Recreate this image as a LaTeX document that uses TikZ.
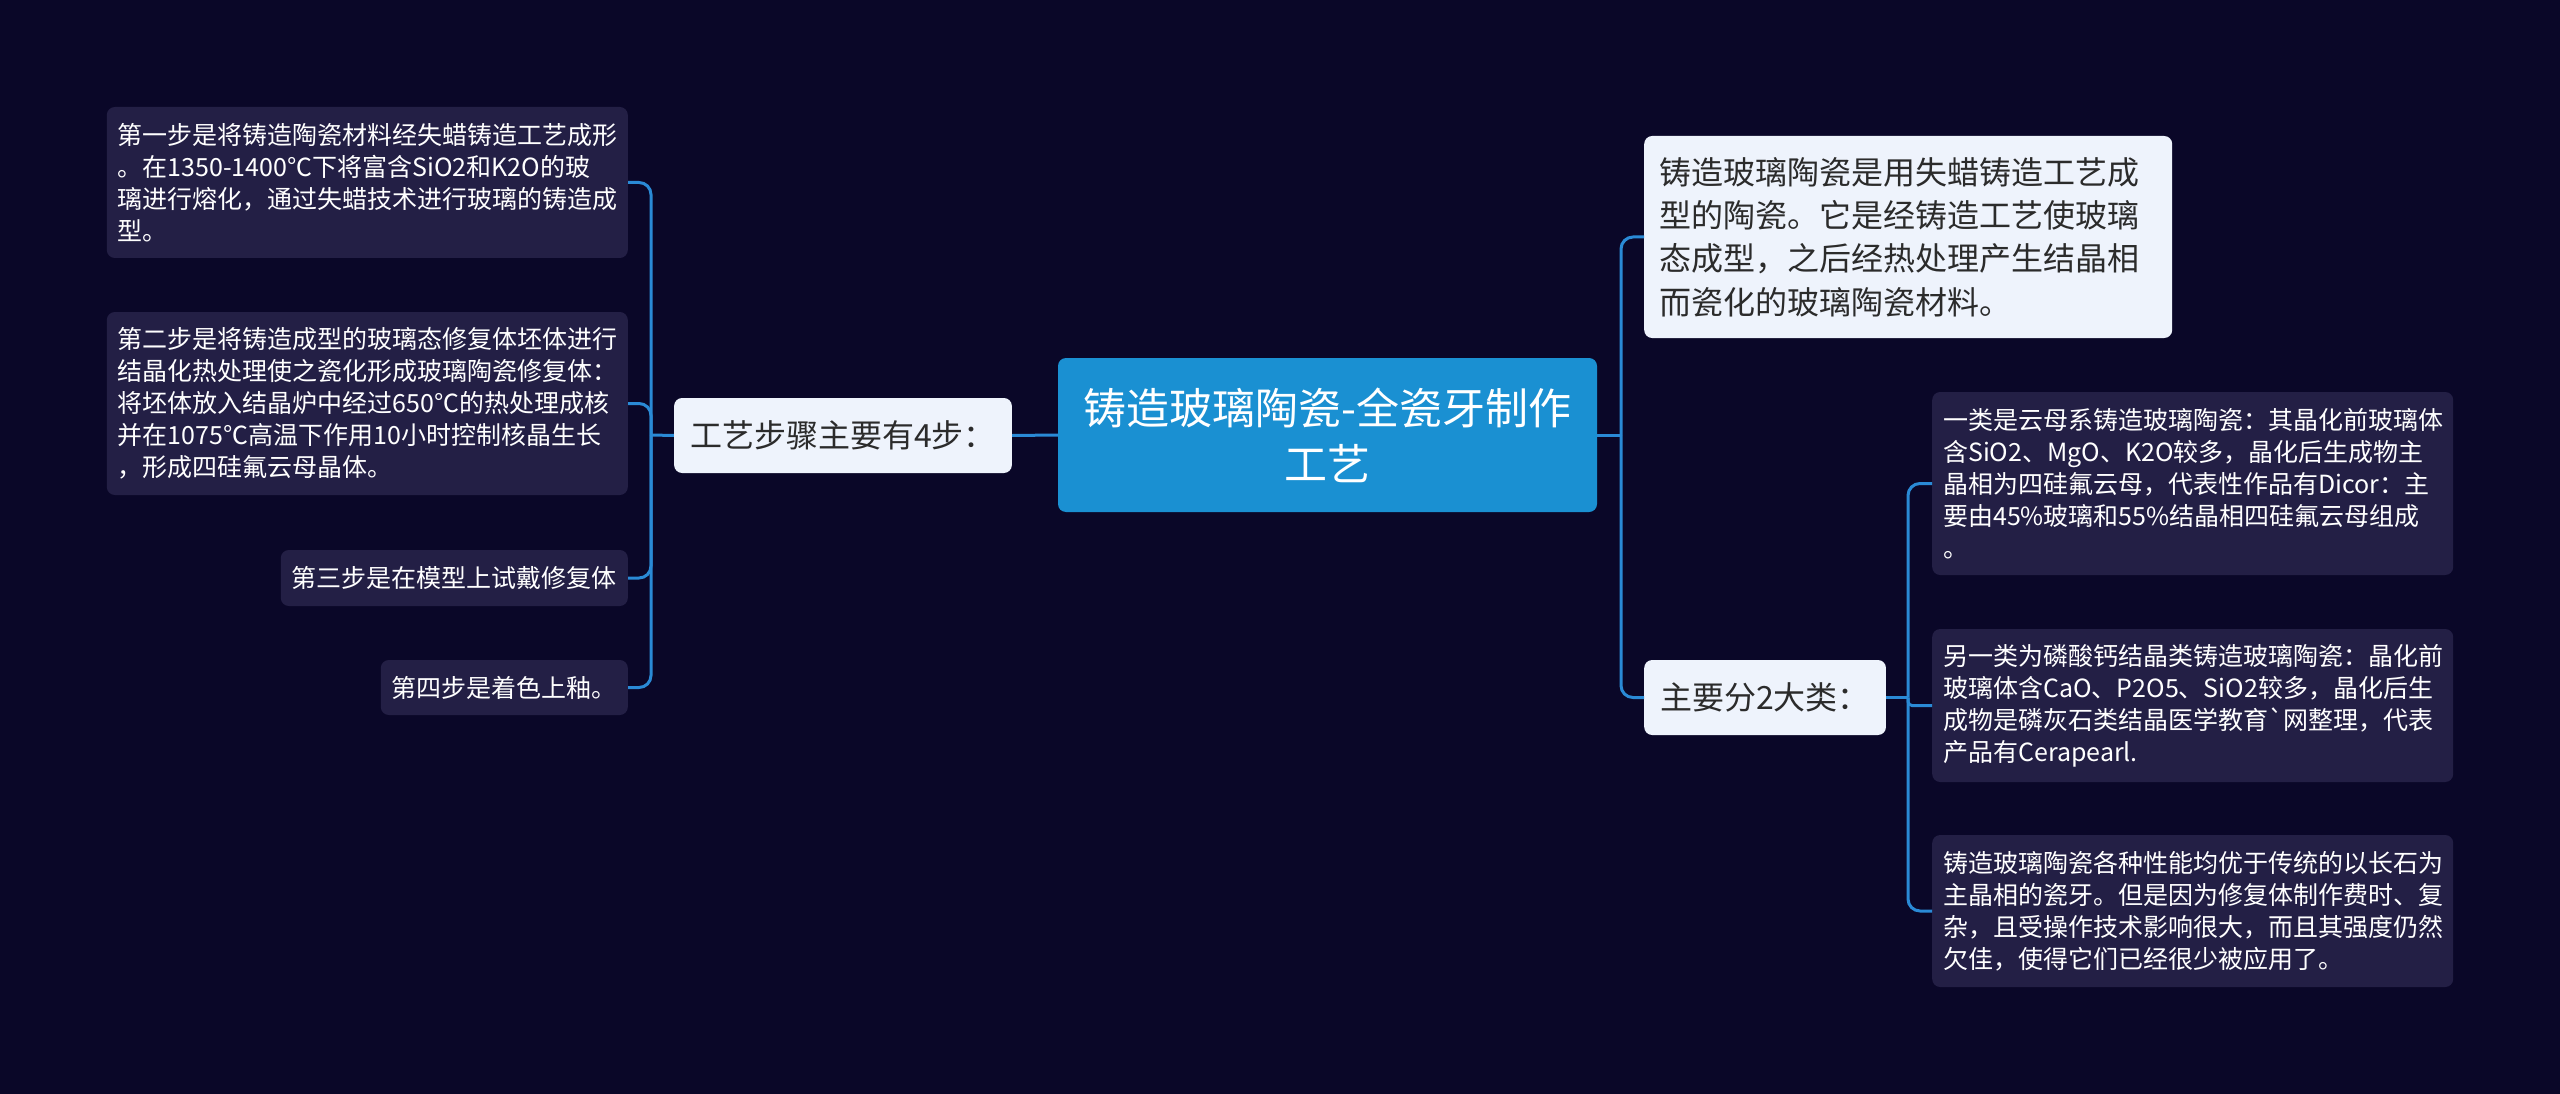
\documentclass[tikz,border=0pt]{standalone}
\usepackage{fontspec}
\setmainfont{Noto Sans CJK SC}[Ligatures=TeXOff]
\usetikzlibrary{positioning}

\definecolor{bgnavy}{HTML}{0A0728}
\definecolor{darkfill}{HTML}{231F45}
\definecolor{rootblue}{HTML}{1A90D2}
\definecolor{lightfill}{HTML}{EEF3FC}
\definecolor{linkblue}{HTML}{2A8AD6}
\definecolor{darktext}{HTML}{2B2B2B}

\tikzset{
  rootbox/.style={fill=rootblue, rounded corners=8pt, text=white, align=center,
    font=\fontsize{43}{56}\selectfont, text width=500pt, inner xsep=19.5pt, inner ysep=10pt},
  lightbox/.style={fill=lightfill, rounded corners=8pt, text=darktext, align=left,
    font=\fontsize{32}{43.3}\selectfont, inner xsep=16pt, inner ysep=10pt},
  darkbox/.style={fill=darkfill, rounded corners=8pt, text=white, align=left,
    font=\fontsize{25}{32}\selectfont, inner xsep=11pt, inner ysep=10pt},
  link/.style={draw=linkblue, line width=3pt},
}

\begin{document}
\begin{tikzpicture}[x=1pt, y=-1pt]
    % page and background
    \useasboundingbox (0,0) rectangle (2560,1094);
    \fill[bgnavy] (0,0) rectangle (2560,1094);

    % centre topic
    \node[rootbox, minimum height=154pt] (root) at (1327.5,435)
        {铸造玻璃陶瓷-全瓷牙制作\\工艺};

    % left branch: the four steps
    \node[lightbox, minimum height=75pt] (steps) at (843,435.5) {工艺步骤主要有4步：};

    \node[darkbox, text width=499pt, minimum height=151pt, anchor=east] (s1) at (628,182.5)
        {第一步是将铸造陶瓷材料经失蜡铸造工艺成形\\。在1350-1400℃下将富含SiO2和K2O的玻\\璃进行熔化，通过失蜡技术进行玻璃的铸造成\\型。};
    \node[darkbox, text width=499pt, minimum height=183pt, anchor=east] (s2) at (628,403.5)
        {第二步是将铸造成型的玻璃态修复体坯体进行\\结晶化热处理使之瓷化形成玻璃陶瓷修复体：\\将坯体放入结晶炉中经过650℃的热处理成核\\并在1075℃高温下作用10小时控制核晶生长\\，形成四硅氟云母晶体。};
    \node[darkbox, minimum height=56pt, anchor=east] (s3) at (628,578) {第三步是在模型上试戴修复体};
    \node[darkbox, minimum height=55pt, anchor=east] (s4) at (628,687.5) {第四步是着色上釉。};

    % right branch: definition and the two kinds
    \node[lightbox, text width=498pt, minimum height=202pt, inner xsep=15pt, anchor=west] (desc) at (1644,237)
        {铸造玻璃陶瓷是用失蜡铸造工艺成\\型的陶瓷。它是经铸造工艺使玻璃\\态成型，之后经热处理产生结晶相\\而瓷化的玻璃陶瓷材料。};
    \node[lightbox, minimum height=75pt, anchor=west] (kinds) at (1644,697.5) {主要分2大类：};

    \node[darkbox, text width=499pt, minimum height=183pt, anchor=west] (k1) at (1932,483.5)
        {一类是云母系铸造玻璃陶瓷：其晶化前玻璃体\\含SiO2、MgO、K2O较多，晶化后生成物主\\晶相为四硅氟云母，代表性作品有Dicor：主\\要由45\%玻璃和55\%结晶相四硅氟云母组成\\。};
    \node[darkbox, text width=499pt, minimum height=153pt, anchor=west] (k2) at (1932,705.5)
        {另一类为磷酸钙结晶类铸造玻璃陶瓷：晶化前\\玻璃体含CaO、P2O5、SiO2较多，晶化后生\\成物是磷灰石类结晶医学教育`网整理，代表\\产品有Cerapearl.};
    \node[darkbox, text width=499pt, minimum height=152pt, anchor=west] (k3) at (1932,911)
        {铸造玻璃陶瓷各种性能均优于传统的以长石为\\主晶相的瓷牙。但是因为修复体制作费时、复\\杂，且受操作技术影响很大，而且其强度仍然\\欠佳，使得它们已经很少被应用了。};

    % junctions of the brackets
    \coordinate (lj) at (651,435);
    \coordinate (rj) at (1621,435);
    \coordinate (kj) at (1908,697.5);

    % connectors
    \draw[link] (steps.east) -- (root.west);
    \draw[link] (steps.west) -- (lj);
    \foreach \n in {s1,s2,s3,s4}
        \draw[link, rounded corners=12pt] (lj) |- (\n.east);

    \draw[link] (root.east) -- (rj);
    \foreach \n in {desc,kinds}
        \draw[link, rounded corners=12pt] (rj) |- (\n.west);

    \draw[link] (kinds.east) -- (kj);
    \foreach \n in {k1,k3}
        \draw[link, rounded corners=12pt] (kj) |- (\n.west);
    \draw[link, rounded corners=4pt] (kj) |- (k2.west);
\end{tikzpicture}
\end{document}
